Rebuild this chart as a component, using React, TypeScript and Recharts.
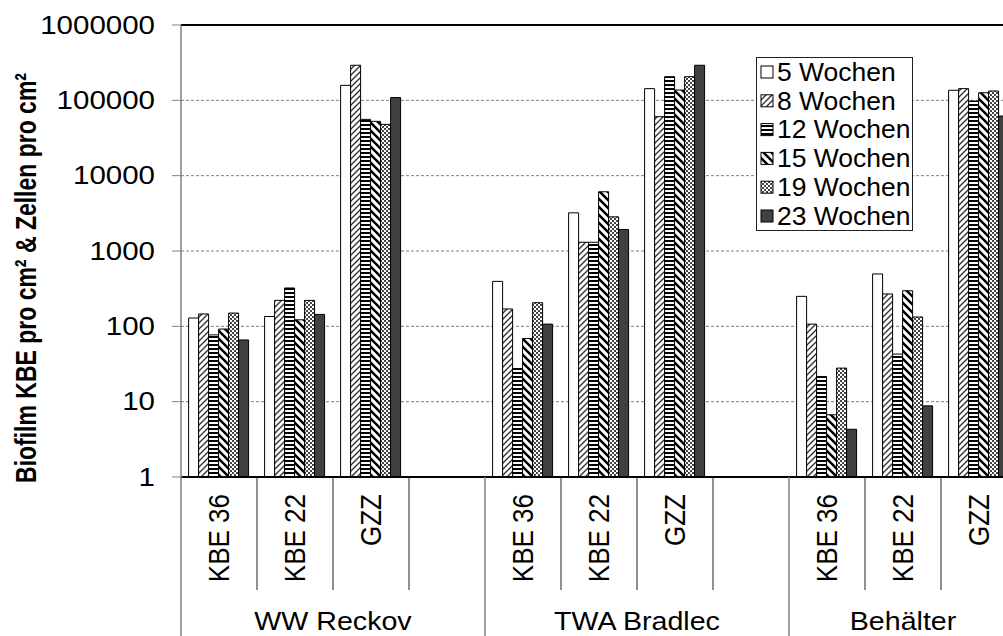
import React from 'react';
import { BarChart, Bar, XAxis, YAxis, CartesianGrid, ReferenceLine, Legend } from 'recharts';

const CATEGORY_LABELS = ['KBE 36', 'KBE 22', 'GZZ', '', 'KBE 36', 'KBE 22', 'GZZ', '', 'KBE 36', 'KBE 22', 'GZZ'];
const GROUP_NAMES = ['WW Reckov', 'TWA Bradlec', 'Behälter'];
const GROUP_OF = [0, 0, 0, 0, 1, 1, 1, 1, 2, 2, 2];
const SERIES_NAMES = ['5 Wochen', '8 Wochen', '12 Wochen', '15 Wochen', '19 Wochen', '23 Wochen'];

const W5 = [129, 135, 158000, null, 395, 3210, 143000, null, 250, 496, 136000];
const W8 = [146, 221, 292000, null, 170, 1307, 60700, null, 107, 269, 143000];
const W12 = [77, 323, 55900, null, 27.5, 1307, 206000, null, 21.6, 42.8, 97900];
const W15 = [92, 122, 52600, null, 69, 6110, 137000, null, 6.7, 297, 126000];
const W19 = [150, 221, 48000, null, 206, 2840, 206000, null, 27.9, 133, 133000];
const W23 = [66, 144, 108700, null, 107, 1927, 292000, null, 4.3, 8.8, 61900];

const Y_TICKS = [1, 10, 100, 1000, 10000, 100000, 1000000];
const Y_TITLE = 'Biofilm KBE pro cm² & Zellen pro cm²';

const SERIES_KEYS = ['w5', 'w8', 'w12', 'w15', 'w19', 'w23'];
const SERIES_FILLS = ['#ffffff', 'url(#p8)', 'url(#p12)', 'url(#p15)', 'url(#p19)', '#404040'];

const data = CATEGORY_LABELS.map((label, i) => ({
  key: String(i),
  label,
  group: GROUP_OF[i],
  w5: W5[i],
  w8: W8[i],
  w12: W12[i],
  w15: W15[i],
  w19: W19[i],
  w23: W23[i],
}));

const FONT = '"Liberation Sans", Arial, Helvetica, sans-serif';
const CHART_W = 1040;
const CHART_H = 636;
const MARGIN_TOP = 25;
const MARGIN_RIGHT = 23;
const Y_AXIS_W = 181;
const X_AXIS_H = 159;
const PLOT_BOTTOM = CHART_H - X_AXIS_H;
const BAND = (CHART_W - MARGIN_RIGHT - Y_AXIS_W) / CATEGORY_LABELS.length;

function YTick(props: any) {
  const { y, payload } = props;
  return (
    <text
      transform={`translate(155, ${y}) scale(1.18, 1)`}
      x={0}
      y={0}
      textAnchor="end"
      dominantBaseline="central"
      fontSize={25}
      fontFamily={FONT}
      fill="#000"
    >
      {String(payload.value)}
    </text>
  );
}

function CatTick(props: any) {
  const { x, index } = props;
  const i = index;
  const label = CATEGORY_LABELS[i];
  const g = GROUP_OF[i];
  const isFirstInGroup = i === 0 || GROUP_OF[i - 1] !== g;
  const isLastInGroup = i === CATEGORY_LABELS.length - 1 || GROUP_OF[i + 1] !== g;
  const rightX = x + BAND / 2;
  const leftX = x - BAND / 2;
  const span = GROUP_OF.filter((v) => v === g).length;
  return (
    <g>
      {label ? (
        <text
          transform={`translate(${x}, ${PLOT_BOTTOM + 17}) scale(1.1, 1) rotate(-90)`}
          textAnchor="end"
          dominantBaseline="central"
          fontSize={26}
          fontFamily={FONT}
          fill="#000"
        >
          {label}
        </text>
      ) : null}
      {i === 0 ? <line x1={leftX} x2={leftX} y1={PLOT_BOTTOM} y2={CHART_H} stroke="#808080" strokeWidth={1.5} /> : null}
      {isLastInGroup ? (
        <line x1={rightX} x2={rightX} y1={PLOT_BOTTOM} y2={CHART_H} stroke="#808080" strokeWidth={1.5} />
      ) : (
        <line x1={rightX} x2={rightX} y1={PLOT_BOTTOM} y2={PLOT_BOTTOM + 113} stroke="#202020" strokeWidth={1} />
      )}
      {isFirstInGroup ? (
        <text
          transform={`translate(${leftX + (span * BAND) / 2}, ${PLOT_BOTTOM + 144}) scale(1.1, 1)`}
          textAnchor="middle"
          dominantBaseline="central"
          fontSize={26}
          fontFamily={FONT}
          fill="#000"
        >
          {GROUP_NAMES[g]}
        </text>
      ) : null}
    </g>
  );
}

function LegendBox() {
  const rowH = 28.8;
  return (
    <svg width={158} height={175} style={{ display: 'block' }}>
      <rect x={0.5} y={0.5} width={156} height={173} fill="#fff" stroke="#202020" strokeWidth={1} />
      {SERIES_NAMES.map((name, i) => {
        const cy = 15 + i * rowH;
        return (
          <g key={name}>
            <rect x={5} y={cy - 6} width={12} height={12} fill={SERIES_FILLS[i]} stroke="#000" strokeWidth={1} />
            <text
              transform={`translate(21, ${cy}) scale(1.06, 1)`}
              dominantBaseline="central"
              fontSize={25}
              fontFamily={FONT}
              fill="#000"
            >
              {name}
            </text>
          </g>
        );
      })}
    </svg>
  );
}

function YTitle() {
  return (
    <text
      transform="translate(26, 278) scale(1.3, 1) rotate(-90)"
      textAnchor="middle"
      dominantBaseline="central"
      fontSize={23}
      fontWeight="bold"
      fontFamily={FONT}
      fill="#000"
    >
      {Y_TITLE}
    </text>
  );
}

export default function App() {
  return (
    <div style={{ position: 'absolute', left: 0, top: 0, width: 1003, height: 636, overflow: 'hidden', background: '#fff' }}>
      <svg width={0} height={0} style={{ position: 'absolute' }}>
        <defs>
          <pattern id="p8" patternUnits="userSpaceOnUse" width={6} height={6}>
            <rect width={6} height={6} fill="#fff" />
            <path d="M0,6 L6,0 M-1,1 L1,-1 M5,7 L7,5" stroke="#333" strokeWidth={1.4} />
          </pattern>
          <pattern id="p12" patternUnits="userSpaceOnUse" width={4} height={4}>
            <rect width={4} height={4} fill="#fff" />
            <rect width={4} height={2} fill="#000" />
          </pattern>
          <pattern id="p15" patternUnits="userSpaceOnUse" width={8} height={8}>
            <rect width={8} height={8} fill="#fff" />
            <path d="M0,0 L8,8 M-1,7 L1,9 M7,-1 L9,1" stroke="#000" strokeWidth={2.5} />
          </pattern>
          <pattern id="p19" patternUnits="userSpaceOnUse" width={4} height={4}>
            <rect width={4} height={4} fill="#fff" />
            <rect x={0} y={0} width={2} height={2} fill="#444" />
            <rect x={2} y={2} width={2} height={2} fill="#444" />
          </pattern>
        </defs>
      </svg>
      <BarChart
        width={CHART_W}
        height={CHART_H}
        data={data}
        margin={{ top: MARGIN_TOP, right: MARGIN_RIGHT, bottom: 0, left: 0 }}
        barCategoryGap="10%"
        barGap={0}
      >
        <CartesianGrid vertical={false} stroke="#808080" strokeDasharray="3 2" />
        <XAxis
          dataKey="key"
          interval={0}
          height={X_AXIS_H}
          tickLine={false}
          axisLine={{ stroke: '#000', strokeWidth: 2 }}
          tick={<CatTick />}
        />
        <YAxis
          scale="log"
          domain={[1, 1000000]}
          allowDataOverflow
          ticks={Y_TICKS}
          interval={0}
          width={Y_AXIS_W}
          tickSize={9}
          tickLine={{ stroke: '#808080' }}
          axisLine={{ stroke: '#808080', strokeWidth: 1.5 }}
          tick={<YTick />}
          label={() => <YTitle />}
        />
        <ReferenceLine y={1000000} stroke="#000" strokeWidth={2} />
        {SERIES_KEYS.map((k, i) => (
          <Bar
            key={k}
            dataKey={k}
            name={SERIES_NAMES[i]}
            fill={SERIES_FILLS[i]}
            stroke="#000"
            strokeWidth={1}
            isAnimationActive={false}
          />
        ))}
        <Legend
          layout="vertical"
          align="center"
          verticalAlign="middle"
          content={() => <LegendBox />}
          wrapperStyle={{ left: 756, top: 57, width: 158, height: 175 }}
        />
      </BarChart>
    </div>
  );
}
